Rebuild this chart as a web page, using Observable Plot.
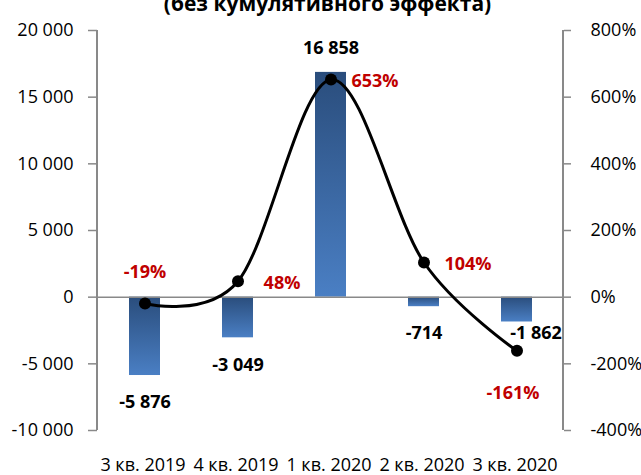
<!DOCTYPE html>
<html><head><meta charset="utf-8">
<script src="https://cdn.jsdelivr.net/npm/d3@7"></script>
<script src="https://cdn.jsdelivr.net/npm/@observablehq/plot@0.6"></script>
<style>body{margin:0;background:#fff}</style>
</head><body><div id="chart"></div>
<script>
const quarters = ["3 кв. 2019","4 кв. 2019","1 кв. 2020","2 кв. 2020","3 кв. 2020"];
const values = [-5876, -3049, 16858, -714, -1862];
const growth = [-19, 48, 653, 104, -161];
const leftTicks = [-10000, -5000, 0, 5000, 10000, 15000, 20000];
const rightTicks = [-400, -200, 0, 200, 400, 600, 800];
const title = "(без кумулятивного эффекта)";
const ratio = 25; // 100% on the right axis equals 2 500 on the left axis

const data = quarters.map((q, i) => ({q, v: values[i], g: growth[i], gy: growth[i] * ratio, i}));
const fmt = d => (d < 0 ? "-" : "") + String(Math.abs(d)).replace(/\B(?=(\d{3})+(?!\d))/g, " ");
const pct = d => d + "%";
const grey = "#898989";
const red = "#c00000";

const axisLines = (index, scales, values, dim) => {
  const g = d3.create("svg:g").attr("stroke", grey).attr("stroke-width", 2);
  const y0 = dim.marginTop, y1 = dim.height - dim.marginBottom;
  [dim.marginLeft, dim.width - dim.marginRight].forEach(x =>
    g.append("line").attr("x1", x).attr("x2", x).attr("y1", y0).attr("y2", y1));
  return g.node();
};

const chart = Plot.plot({
  width: 641, height: 475,
  marginLeft: 97, marginRight: 78, marginTop: 30, marginBottom: 45,
  style: {fontFamily: "'Open Sans', sans-serif", fontSize: "18px", color: "black", background: "white"},
  x: {domain: quarters, paddingInner: 0.667, paddingOuter: 0.333, label: null},
  y: {domain: [-10000, 20000], label: null},
  marks: [
    Plot.barY(data, {x: "q", y: "v", fill: "url(#barGrad)"}),
    Plot.ruleY([0], {stroke: grey, strokeWidth: 1.5}),
    axisLines,
    Plot.axisY({anchor: "left", ticks: leftTicks, tickFormat: fmt, tickSize: 9, tickPadding: 15,
      stroke: grey, strokeWidth: 1.5, fill: "black", fontSize: 18, label: null}),
    Plot.axisY({anchor: "right", ticks: rightTicks.map(d => d * ratio), tickFormat: d => pct(d / ratio),
      tickSize: 7, tickPadding: 20, stroke: grey, strokeWidth: 1.5, fill: "black", fontSize: 18, label: null}),
    Plot.axisX({tickSize: 0, tickPadding: 28, fill: "black", fontSize: 18, dx: -2, label: null}),
    Plot.line(data, {x: "q", y: "gy", curve: "cardinal", stroke: "black", strokeWidth: 3}),
    Plot.dot(data, {x: "q", y: "gy", r: 6, fill: "black"}),
    // value labels
    Plot.text(data.filter(d => d.v > 0), {x: "q", y: "v", text: d => fmt(d.v), dy: -24, fontWeight: "bold", fontSize: 18, fill: "black"}),
    Plot.text(data.filter(d => d.v < 0 && d.i !== 4), {x: "q", y: "v", text: d => fmt(d.v), dy: 27, fontWeight: "bold", fontSize: 18, fill: "black"}),
    Plot.text(data.filter(d => d.i === 4), {x: "q", y: "v", text: d => fmt(d.v), dy: 11, dx: 19, fontWeight: "bold", fontSize: 18, fill: "black"}),
    // percent labels
    Plot.text(data.filter(d => [1, 2, 3].includes(d.i)), {x: "q", y: "gy", text: d => pct(d.g), dx: 44, dy: 2, fontWeight: "bold", fontSize: 18, fill: red}),
    Plot.text(data.filter(d => d.i === 0), {x: "q", y: "gy", text: d => pct(d.g), dy: -31, fontWeight: "bold", fontSize: 18, fill: red}),
    Plot.text(data.filter(d => d.i === 4), {x: "q", y: "gy", text: d => pct(d.g), dx: -4, dy: 42, fontWeight: "bold", fontSize: 18, fill: red}),
    // title (cut off at the top as in the reference)
    Plot.text([title], {text: d => d, frameAnchor: "top", dx: -3, dy: -20, lineAnchor: "bottom", fontWeight: "bold", fontSize: 21, fill: "black"})
  ]
});

const defs = d3.select(chart).insert("defs", ":first-child");
const lg = defs.append("linearGradient").attr("id", "barGrad")
  .attr("x1", 0).attr("y1", 0).attr("x2", 0).attr("y2", 1);
lg.append("stop").attr("offset", "0%").attr("stop-color", "#2a4d7c");
lg.append("stop").attr("offset", "100%").attr("stop-color", "#4a7fc4");

document.getElementById("chart").appendChild(chart);
</script>
</body></html>
